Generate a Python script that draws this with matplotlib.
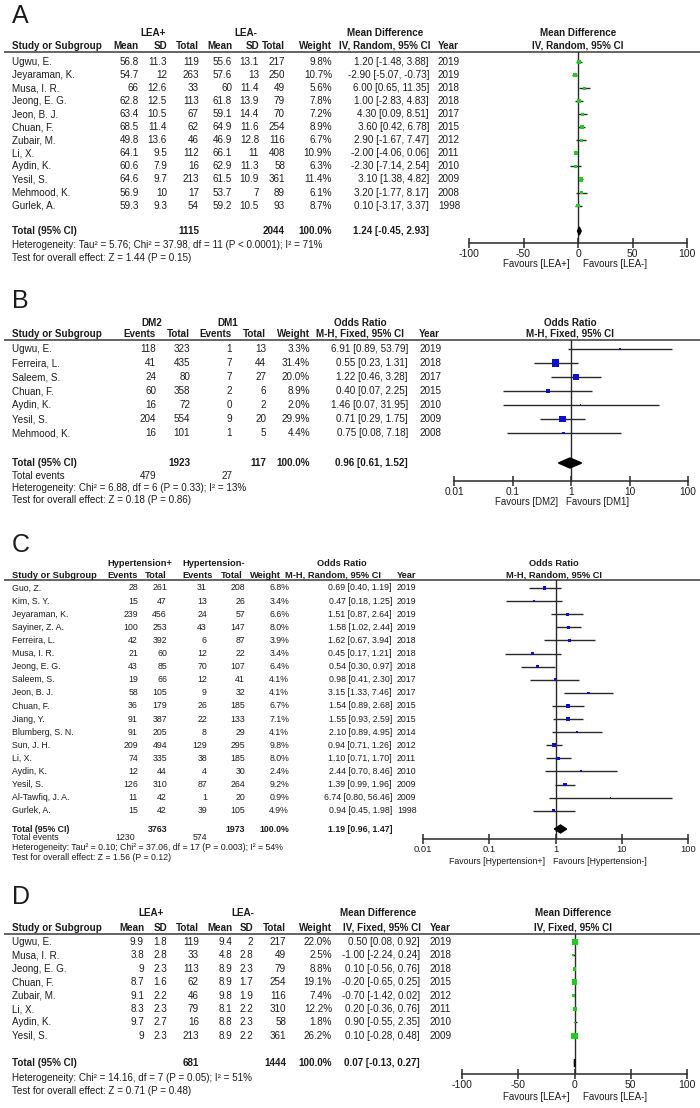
import matplotlib
matplotlib.use("Agg")
import matplotlib.pyplot as plt
from matplotlib.ticker import NullLocator
import numpy as np

# ================= DATA =================
# ---- Panel A: LEA+ vs LEA- (Mean Difference, IV Random) ----
A_study = ["Ugwu, E.", "Jeyaraman, K.", "Musa, I. R.", "Jeong, E. G.", "Jeon, B. J.", "Chuan, F.",
           "Zubair, M.", "Li, X.", "Aydin, K.", "Yesil, S.", "Mehmood, K.", "Gurlek, A."]
A_mean1 = [56.8, 54.7, 66, 62.8, 63.4, 68.5, 49.8, 64.1, 60.6, 64.6, 56.9, 59.3]
A_sd1 = [11.3, 12, 12.6, 12.5, 10.5, 11.4, 13.6, 9.5, 7.9, 9.7, 10, 9.3]
A_n1 = [119, 263, 33, 113, 67, 62, 46, 112, 16, 213, 17, 54]
A_mean2 = [55.6, 57.6, 60, 61.8, 59.1, 64.9, 46.9, 66.1, 62.9, 61.5, 53.7, 59.2]
A_sd2 = [13.1, 13, 11.4, 13.9, 14.4, 11.6, 12.8, 11, 11.3, 10.9, 7, 10.5]
A_n2 = [217, 250, 49, 79, 70, 254, 116, 408, 58, 361, 89, 93]
A_weight = [9.8, 10.7, 5.6, 7.8, 7.2, 8.9, 6.7, 10.9, 6.3, 11.4, 6.1, 8.7]
A_est = [1.20, -2.90, 6.00, 1.00, 4.30, 3.60, 2.90, -2.00, -2.30, 3.10, 3.20, 0.10]
A_lo = [-1.48, -5.07, 0.65, -2.83, 0.09, 0.42, -1.67, -4.06, -7.14, 1.38, -1.77, -3.17]
A_hi = [3.88, -0.73, 11.35, 4.83, 8.51, 6.78, 7.47, 0.06, 2.54, 4.82, 8.17, 3.37]
A_year = [2019, 2019, 2018, 2018, 2017, 2015, 2012, 2011, 2010, 2009, 2008, 1998]
A_tot = [1115, 2044]
A_pooled = [1.24, -0.45, 2.93]
A_het = "Heterogeneity: Tau² = 5.76; Chi² = 37.98, df = 11 (P < 0.0001); I² = 71%"
A_test = "Test for overall effect: Z = 1.44 (P = 0.15)"
A_ticks = [-100, -50, 0, 50, 100]

# ---- Panel B: DM2 vs DM1 (Odds Ratio, M-H Fixed) ----
B_study = ["Ugwu, E.", "Ferreira, L.", "Saleem, S.", "Chuan, F.", "Aydin, K.", "Yesil, S.", "Mehmood, K."]
B_ev1 = [118, 41, 24, 60, 16, 204, 16]
B_tot1 = [323, 435, 80, 358, 72, 554, 101]
B_ev2 = [1, 7, 7, 2, 0, 9, 1]
B_tot2 = [13, 44, 27, 6, 2, 20, 5]
B_weight = [3.3, 31.4, 20.0, 8.9, 2.0, 29.9, 4.4]
B_est = [6.91, 0.55, 1.22, 0.40, 1.46, 0.71, 0.75]
B_lo = [0.89, 0.23, 0.46, 0.07, 0.07, 0.29, 0.08]
B_hi = [53.79, 1.31, 3.28, 2.25, 31.95, 1.75, 7.18]
B_year = [2019, 2018, 2017, 2015, 2010, 2009, 2008]
B_tot = [1923, 117]
B_events = [479, 27]
B_pooled = [0.96, 0.61, 1.52]
B_het = "Heterogeneity: Chi² = 6.88, df = 6 (P = 0.33); I² = 13%"
B_test = "Test for overall effect: Z = 0.18 (P = 0.86)"

# ---- Panel C: Hypertension+ vs Hypertension- (Odds Ratio, M-H Random) ----
C_study = ["Guo, Z.", "Kim, S. Y.", "Jeyaraman, K.", "Sayiner, Z. A.", "Ferreira, L.", "Musa, I. R.",
           "Jeong, E. G.", "Saleem, S.", "Jeon, B. J.", "Chuan, F.", "Jiang, Y.", "Blumberg, S. N.",
           "Sun, J. H.", "Li, X.", "Aydin, K.", "Yesil, S.", "Al-Tawfiq, J. A.", "Gurlek, A."]
C_ev1 = [28, 15, 239, 100, 42, 21, 43, 19, 58, 36, 91, 91, 209, 74, 12, 126, 11, 15]
C_tot1 = [261, 47, 456, 253, 392, 60, 85, 66, 105, 179, 387, 205, 494, 335, 44, 310, 42, 42]
C_ev2 = [31, 13, 24, 43, 6, 12, 70, 12, 9, 26, 22, 8, 129, 38, 4, 87, 1, 39]
C_tot2 = [208, 26, 57, 147, 87, 22, 107, 41, 32, 185, 133, 29, 295, 185, 30, 264, 20, 105]
C_weight = [6.8, 3.4, 6.6, 8.0, 3.9, 3.4, 6.4, 4.1, 4.1, 6.7, 7.1, 4.1, 9.8, 8.0, 2.4, 9.2, 0.9, 4.9]
C_est = [0.69, 0.47, 1.51, 1.58, 1.62, 0.45, 0.54, 0.98, 3.15, 1.54, 1.55, 2.10, 0.94, 1.10, 2.44, 1.39, 6.74, 0.94]
C_lo = [0.40, 0.18, 0.87, 1.02, 0.67, 0.17, 0.30, 0.41, 1.33, 0.89, 0.93, 0.89, 0.71, 0.71, 0.70, 0.99, 0.80, 0.45]
C_hi = [1.19, 1.25, 2.64, 2.44, 3.94, 1.21, 0.97, 2.30, 7.46, 2.68, 2.59, 4.95, 1.26, 1.70, 8.46, 1.96, 56.46, 1.98]
C_year = [2019, 2019, 2019, 2019, 2018, 2018, 2018, 2017, 2017, 2015, 2015, 2014, 2012, 2011, 2010, 2009, 2009, 1998]
C_tot = [3763, 1973]
C_events = [1230, 574]
C_pooled = [1.19, 0.96, 1.47]
C_het = "Heterogeneity: Tau² = 0.10; Chi² = 37.06, df = 17 (P = 0.003); I² = 54%"
C_test = "Test for overall effect: Z = 1.56 (P = 0.12)"

OR_ticks = [0.01, 0.1, 1, 10, 100]
OR_ticklabels = ["0.01", "0.1", "1", "10", "100"]

# ---- Panel D: LEA+ vs LEA- (Mean Difference, IV Fixed) ----
D_study = ["Ugwu, E.", "Musa, I. R.", "Jeong, E. G.", "Chuan, F.", "Zubair, M.", "Li, X.", "Aydin, K.", "Yesil, S."]
D_mean1 = [9.9, 3.8, 9, 8.7, 9.1, 8.3, 9.7, 9]
D_sd1 = [1.8, 2.8, 2.3, 1.6, 2.2, 2.3, 2.7, 2.3]
D_n1 = [119, 33, 113, 62, 46, 79, 16, 213]
D_mean2 = [9.4, 4.8, 8.9, 8.9, 9.8, 8.1, 8.8, 8.9]
D_sd2 = [2, 2.8, 2.3, 1.7, 1.9, 2.2, 2.3, 2.2]
D_n2 = [217, 49, 79, 254, 116, 310, 58, 361]
D_weight = [22.0, 2.5, 8.8, 19.1, 7.4, 12.2, 1.8, 26.2]
D_est = [0.50, -1.00, 0.10, -0.20, -0.70, 0.20, 0.90, 0.10]
D_lo = [0.08, -2.24, -0.56, -0.65, -1.42, -0.36, -0.55, -0.28]
D_hi = [0.92, 0.24, 0.76, 0.25, 0.02, 0.76, 2.35, 0.48]
D_year = [2019, 2018, 2018, 2015, 2012, 2011, 2010, 2009]
D_tot = [681, 1444]
D_pooled = [0.07, -0.13, 0.27]
D_het = "Heterogeneity: Chi² = 14.16, df = 7 (P = 0.05); I² = 51%"
D_test = "Test for overall effect: Z = 0.71 (P = 0.48)"

# ================= DRAWING =================
W, H = 700, 1108
fig = plt.figure(figsize=(W / 100, H / 100), dpi=100)
fig.patch.set_facecolor("white")
ov = fig.add_axes([0, 0, 1, 1])
ov.set_xlim(0, W)
ov.set_ylim(H, 0)
ov.axis("off")

FONT = ["Liberation Sans", "DejaVu Sans"]
TXT = "#1c1c1c"
GREEN = "#22cc22"
BLUE = "#1010cc"


def txt(x, y, s, fs, ha="left", bold=False):
    ov.text(x, y, s, fontsize=fs, ha=ha, va="center", family=FONT,
            fontweight="bold" if bold else "normal", color=TXT)


def g(v):
    return f"{v:g}"


def ci_str(e, l, h):
    return f"{e:.2f} [{l:.2f}, {h:.2f}]"


def hline(y):
    ov.plot([4, W], [y, y], color="#3a3a3a", lw=1.1, solid_capstyle="butt")


def forest(x0, x1, ytop, yaxis, xlim, log, ticks, ticklabels, ref, rows_y, est, lo, hi, weight,
           color, pooled, pooled_y, dh, tick_fs):
    ax = fig.add_axes([x0 / W, 1 - yaxis / H, (x1 - x0) / W, (yaxis - ytop) / H])
    ax.set_facecolor("none")
    if log:
        ax.set_xscale("log")
    ax.set_xlim(*xlim)
    ax.set_ylim(yaxis, ytop)
    for s in ["top", "left", "right"]:
        ax.spines[s].set_visible(False)
    ax.spines["bottom"].set_color("#2a2a2a")
    ax.spines["bottom"].set_linewidth(1.1)
    ax.set_yticks([])
    ax.set_xticks(ticks)
    ax.set_xticklabels(ticklabels, family=FONT, fontsize=tick_fs, color=TXT)
    ax.xaxis.set_minor_locator(NullLocator())
    ax.tick_params(axis="x", direction="inout", length=7, width=1.1, pad=1, color="#2a2a2a")
    ax.axvline(ref, color="#2a2a2a", lw=1.0, zorder=1)
    ax.hlines(rows_y, lo, hi, color="#2a2a2a", lw=1.0, zorder=2, clip_on=False)
    side_px = 1.25 * np.sqrt(np.array(weight))
    side_px = np.maximum(side_px, 1.6)
    ax.scatter(est, rows_y, s=(side_px * 0.72) ** 2, marker="s", color=color, linewidths=0, zorder=3,
               clip_on=False)
    pe, pl, ph = pooled
    ax.fill([pl, pe, ph, pe], [pooled_y, pooled_y - dh, pooled_y, pooled_y + dh], color="black",
            zorder=4, clip_on=False)
    return ax


# ---------------- Panel A ----------------
fsA = 7.1
txt(12, 16, "A", 18)
rowsA = 62 + 13.05 * np.arange(len(A_study))
txt(153, 33, "LEA+", fsA, "center", True)
txt(246, 33, "LEA-", fsA, "center", True)
txt(385, 33, "Mean Difference", fsA, "center", True)
txt(578, 33, "Mean Difference", fsA, "center", True)
hdr = 46
txt(12, hdr, "Study or Subgroup", fsA, bold=True)
for x, s in [(139, "Mean"), (167, "SD"), (199, "Total"), (232, "Mean"), (259, "SD"), (285, "Total"),
             (332, "Weight")]:
    txt(x, hdr, s, fsA, "right", True)
txt(385, hdr, "IV, Random, 95% CI", fsA, "center", True)
txt(438, hdr, "Year", fsA, bold=True)
txt(578, hdr, "IV, Random, 95% CI", fsA, "center", True)
hline(52)
for i, y in enumerate(rowsA):
    txt(12, y, A_study[i], fsA)
    txt(139, y, g(A_mean1[i]), fsA, "right")
    txt(167, y, g(A_sd1[i]), fsA, "right")
    txt(199, y, g(A_n1[i]), fsA, "right")
    txt(232, y, g(A_mean2[i]), fsA, "right")
    txt(259, y, g(A_sd2[i]), fsA, "right")
    txt(285, y, g(A_n2[i]), fsA, "right")
    txt(332, y, f"{A_weight[i]:.1f}%", fsA, "right")
    txt(429, y, ci_str(A_est[i], A_lo[i], A_hi[i]), fsA, "right")
    txt(438, y, str(A_year[i]), fsA)
yT = 231
txt(12, yT, "Total (95% CI)", fsA, bold=True)
txt(199, yT, str(A_tot[0]), fsA, "right", True)
txt(285, yT, str(A_tot[1]), fsA, "right", True)
txt(332, yT, "100.0%", fsA, "right", True)
txt(429, yT, ci_str(*A_pooled), fsA, "right", True)
txt(12, 245, A_het, fsA)
txt(12, 258, A_test, fsA)
forest(469, 687, 52, 243, (-100, 100), False, A_ticks, [str(t) for t in A_ticks], 0, rowsA,
       A_est, A_lo, A_hi, A_weight, GREEN, A_pooled, yT, 4, 7.5)
txt(570, 264, "Favours [LEA+]", 6.9, "right")
txt(583, 264, "Favours [LEA-]", 6.9)

# ---------------- Panel B ----------------
fsB = 7.1
txt(12, 301, "B", 18)
rowsB = 349 + 14.0 * np.arange(len(B_study))
txt(152, 323, "DM2", fsB, "center", True)
txt(228, 323, "DM1", fsB, "center", True)
txt(360, 323, "Odds Ratio", fsB, "center", True)
txt(570, 323, "Odds Ratio", fsB, "center", True)
hdr = 334
txt(12, hdr, "Study or Subgroup", fsB, bold=True)
for x, s in [(156, "Events"), (190, "Total"), (232, "Events"), (266, "Total"), (310, "Weight")]:
    txt(x, hdr, s, fsB, "right", True)
txt(360, hdr, "M-H, Fixed, 95% CI", fsB, "center", True)
txt(419, hdr, "Year", fsB, bold=True)
txt(570, hdr, "M-H, Fixed, 95% CI", fsB, "center", True)
hline(340)
for i, y in enumerate(rowsB):
    txt(12, y, B_study[i], fsB)
    txt(156, y, str(B_ev1[i]), fsB, "right")
    txt(190, y, str(B_tot1[i]), fsB, "right")
    txt(232, y, str(B_ev2[i]), fsB, "right")
    txt(266, y, str(B_tot2[i]), fsB, "right")
    txt(310, y, f"{B_weight[i]:.1f}%", fsB, "right")
    txt(408, y, ci_str(B_est[i], B_lo[i], B_hi[i]), fsB, "right")
    txt(419, y, str(B_year[i]), fsB)
yT = 463
txt(12, yT, "Total (95% CI)", fsB, bold=True)
txt(190, yT, str(B_tot[0]), fsB, "right", True)
txt(266, yT, str(B_tot[1]), fsB, "right", True)
txt(310, yT, "100.0%", fsB, "right", True)
txt(408, yT, ci_str(*B_pooled), fsB, "right", True)
txt(12, 476, "Total events", fsB)
txt(156, 476, str(B_events[0]), fsB, "right")
txt(232, 476, str(B_events[1]), fsB, "right")
txt(12, 488, B_het, fsB)
txt(12, 500, B_test, fsB)
forest(454, 688, 340, 481, (0.01, 100), True, OR_ticks, OR_ticklabels, 1, rowsB,
       B_est, B_lo, B_hi, B_weight, BLUE, B_pooled, yT, 5, 7.3)
txt(558, 502, "Favours [DM2]", 6.9, "right")
txt(566, 502, "Favours [DM1]", 6.9)

# ---------------- Panel C ----------------
fsC = 6.3
fsCh = 6.7
txt(12, 545, "C", 18)
rowsC = 588 + 13.1 * np.arange(len(C_study))
txt(107, 563, "Hypertension+", fsCh, bold=True)
txt(182, 563, "Hypertension-", fsCh, bold=True)
txt(342, 563, "Odds Ratio", fsCh, "center", True)
txt(554, 563, "Odds Ratio", fsCh, "center", True)
hdr = 575
txt(12, hdr, "Study or Subgroup", fsCh, bold=True)
txt(107, hdr, "Events", fsCh, bold=True)
txt(167, hdr, "Total", fsCh, "right", True)
txt(182, hdr, "Events", fsCh, bold=True)
txt(243, hdr, "Total", fsCh, "right", True)
txt(281, hdr, "Weight", fsCh, "right", True)
txt(285, hdr, "M-H, Random, 95% CI", fsCh, bold=True)
txt(397, hdr, "Year", fsCh, bold=True)
txt(554, hdr, "M-H, Random, 95% CI", fsCh, "center", True)
hline(580)
for i, y in enumerate(rowsC):
    txt(12, y, C_study[i], fsC)
    txt(138, y, str(C_ev1[i]), fsC, "right")
    txt(167, y, str(C_tot1[i]), fsC, "right")
    txt(207, y, str(C_ev2[i]), fsC, "right")
    txt(245, y, str(C_tot2[i]), fsC, "right")
    txt(289, y, f"{C_weight[i]:.1f}%", fsC, "right")
    txt(392, y, ci_str(C_est[i], C_lo[i], C_hi[i]), fsC, "right")
    txt(397, y, str(C_year[i]), fsC)
yT = 829
txt(12, yT, "Total (95% CI)", fsC, bold=True)
txt(167, yT, str(C_tot[0]), fsC, "right", True)
txt(245, yT, str(C_tot[1]), fsC, "right", True)
txt(289, yT, "100.0%", fsC, "right", True)
txt(392, yT, ci_str(*C_pooled), fsC, "right", True)
txt(12, 838, "Total events", fsC)
txt(135, 838, str(C_events[0]), fsC, "right")
txt(207, 838, str(C_events[1]), fsC, "right")
txt(12, 848, C_het, fsC)
txt(12, 857, C_test, fsC)
forest(423, 688, 580, 839, (0.01, 100), True, OR_ticks, OR_ticklabels, 1, rowsC,
       C_est, C_lo, C_hi, C_weight, BLUE, C_pooled, yT, 4, 6.8)
txt(545, 862, "Favours [Hypertension+]", 6.3, "right")
txt(553, 862, "Favours [Hypertension-]", 6.3)

# ---------------- Panel D ----------------
fsD = 7.1
txt(12, 897, "D", 18)
rowsD = 942 + 13.4 * np.arange(len(D_study))
txt(151, 913, "LEA+", fsD, "center", True)
txt(243, 913, "LEA-", fsD, "center", True)
txt(378, 913, "Mean Difference", fsD, "center", True)
txt(573, 913, "Mean Difference", fsD, "center", True)
hdr = 928
txt(12, hdr, "Study or Subgroup", fsD, bold=True)
for x, s in [(144, "Mean"), (167, "SD"), (199, "Total"), (232, "Mean"), (253, "SD"), (286, "Total"),
             (332, "Weight")]:
    txt(x, hdr, s, fsD, "right", True)
txt(382, hdr, "IV, Fixed, 95% CI", fsD, "center", True)
txt(430, hdr, "Year", fsD, bold=True)
txt(573, hdr, "IV, Fixed, 95% CI", fsD, "center", True)
hline(934)
for i, y in enumerate(rowsD):
    txt(12, y, D_study[i], fsD)
    txt(144, y, g(D_mean1[i]), fsD, "right")
    txt(167, y, g(D_sd1[i]), fsD, "right")
    txt(199, y, g(D_n1[i]), fsD, "right")
    txt(232, y, g(D_mean2[i]), fsD, "right")
    txt(253, y, g(D_sd2[i]), fsD, "right")
    txt(286, y, g(D_n2[i]), fsD, "right")
    txt(332, y, f"{D_weight[i]:.1f}%", fsD, "right")
    txt(420, y, ci_str(D_est[i], D_lo[i], D_hi[i]), fsD, "right")
    txt(430, y, str(D_year[i]), fsD)
yT = 1063
txt(12, yT, "Total (95% CI)", fsD, bold=True)
txt(199, yT, str(D_tot[0]), fsD, "right", True)
txt(286, yT, str(D_tot[1]), fsD, "right", True)
txt(332, yT, "100.0%", fsD, "right", True)
txt(420, yT, ci_str(*D_pooled), fsD, "right", True)
txt(12, 1078, D_het, fsD)
txt(12, 1091, D_test, fsD)
forest(462, 687, 934, 1074, (-100, 100), False, A_ticks, [str(t) for t in A_ticks], 0, rowsD,
       D_est, D_lo, D_hi, D_weight, GREEN, D_pooled, yT, 4, 7.5)
txt(570, 1097, "Favours [LEA+]", 6.9, "right")
txt(583, 1097, "Favours [LEA-]", 6.9)

fig.savefig("out.png", dpi=100, facecolor="white")
